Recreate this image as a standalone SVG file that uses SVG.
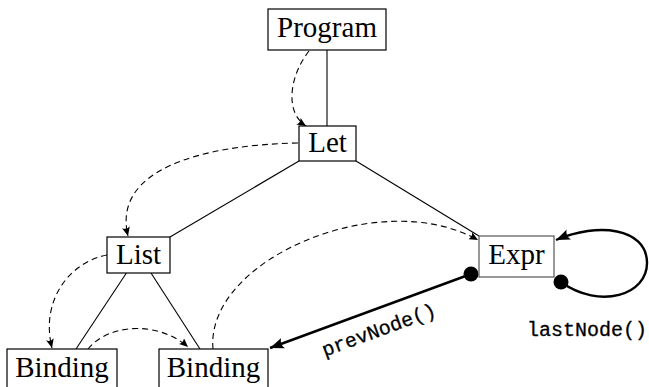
<svg xmlns="http://www.w3.org/2000/svg" width="649" height="387" viewBox="0 0 649 387">
<style>
.box{fill:#fff;stroke:#000;stroke-width:1.2}
.lbl{font-family:"Liberation Serif","Times New Roman",serif;font-size:29px;fill:#000;text-anchor:middle}
.tt{font-family:"Liberation Mono","Courier New",monospace;font-size:20px;fill:#000;stroke:#000;stroke-width:0.3}
.edge{fill:none;stroke:#000;stroke-width:1.1}
.dash{fill:none;stroke:#000;stroke-width:1.1;stroke-dasharray:6,4}
.thick{fill:none;stroke:#000;stroke-width:2.4}
</style>
<defs>
<marker id="sa" markerUnits="userSpaceOnUse" markerWidth="10" markerHeight="8" refX="9" refY="4" orient="auto">
<path d="M0,0 Q3,4 0,8 L9,4 Z" fill="#000"/>
</marker>
<marker id="ta" markerUnits="userSpaceOnUse" markerWidth="15" markerHeight="12" refX="14" refY="5.5" orient="auto">
<path d="M0,0 Q4,5.5 0,11 L14,5.5 Z" fill="#000"/>
</marker>
</defs>
<g id="connectors">
<line class="edge" x1="327" y1="50" x2="327" y2="126"/>
<line class="edge" x1="299" y1="161" x2="170" y2="237"/>
<line class="edge" x1="356" y1="161" x2="479" y2="236"/>
<line class="edge" x1="126.4" y1="273" x2="76" y2="349"/>
<line class="edge" x1="151" y1="273" x2="200" y2="349"/>
<path class="dash" d="M309,51 C290,75 284,112 306,126" marker-end="url(#sa)"/>
<path class="dash" d="M298,143 C200,145 112,170 128,236" marker-end="url(#sa)"/>
<path class="dash" d="M107,255 C70,262 40,300 52,348" marker-end="url(#sa)"/>
<path class="dash" d="M88,349 C110,322 160,322 188,347" marker-end="url(#sa)"/>
<path class="dash" d="M213,349 C205,260 380,185 478,240" marker-end="url(#sa)"/>
<path class="thick" d="M471,274 L270,348" marker-end="url(#ta)"/>
<path class="thick" d="M561,282 C600,310 648,295 647,262 C646,228 598,222 556,240" marker-end="url(#ta)"/>
<circle cx="471" cy="274" r="7.5" fill="#000"/>
<circle cx="561" cy="282" r="7.5" fill="#000"/>
<text class="tt" x="381" y="336" text-anchor="middle" transform="rotate(-20.2 381 336)">prevNode()</text>
<text class="tt" x="527" y="336">lastNode()</text>
</g>
<g id="program"><rect class="box" x="268" y="9" width="118" height="41"/><text class="lbl" x="327" y="37">Program</text></g>
<g id="let"><rect class="box" x="299" y="126" width="57" height="35"/><text class="lbl" x="327.5" y="152">Let</text></g>
<g id="list"><rect class="box" x="107" y="237" width="63" height="36"/><text class="lbl" x="138.5" y="264">List</text></g>
<g id="expr"><rect class="box" x="479" y="236" width="75" height="41" style="stroke:#555"/><text class="lbl" x="516.5" y="264">Expr</text></g>
<g id="binding1"><rect class="box" x="7" y="349" width="110" height="41"/><text class="lbl" x="62" y="377">Binding</text></g>
<g id="binding2"><rect class="box" x="159" y="349" width="109" height="41"/><text class="lbl" x="213.5" y="377">Binding</text></g>
</svg>
